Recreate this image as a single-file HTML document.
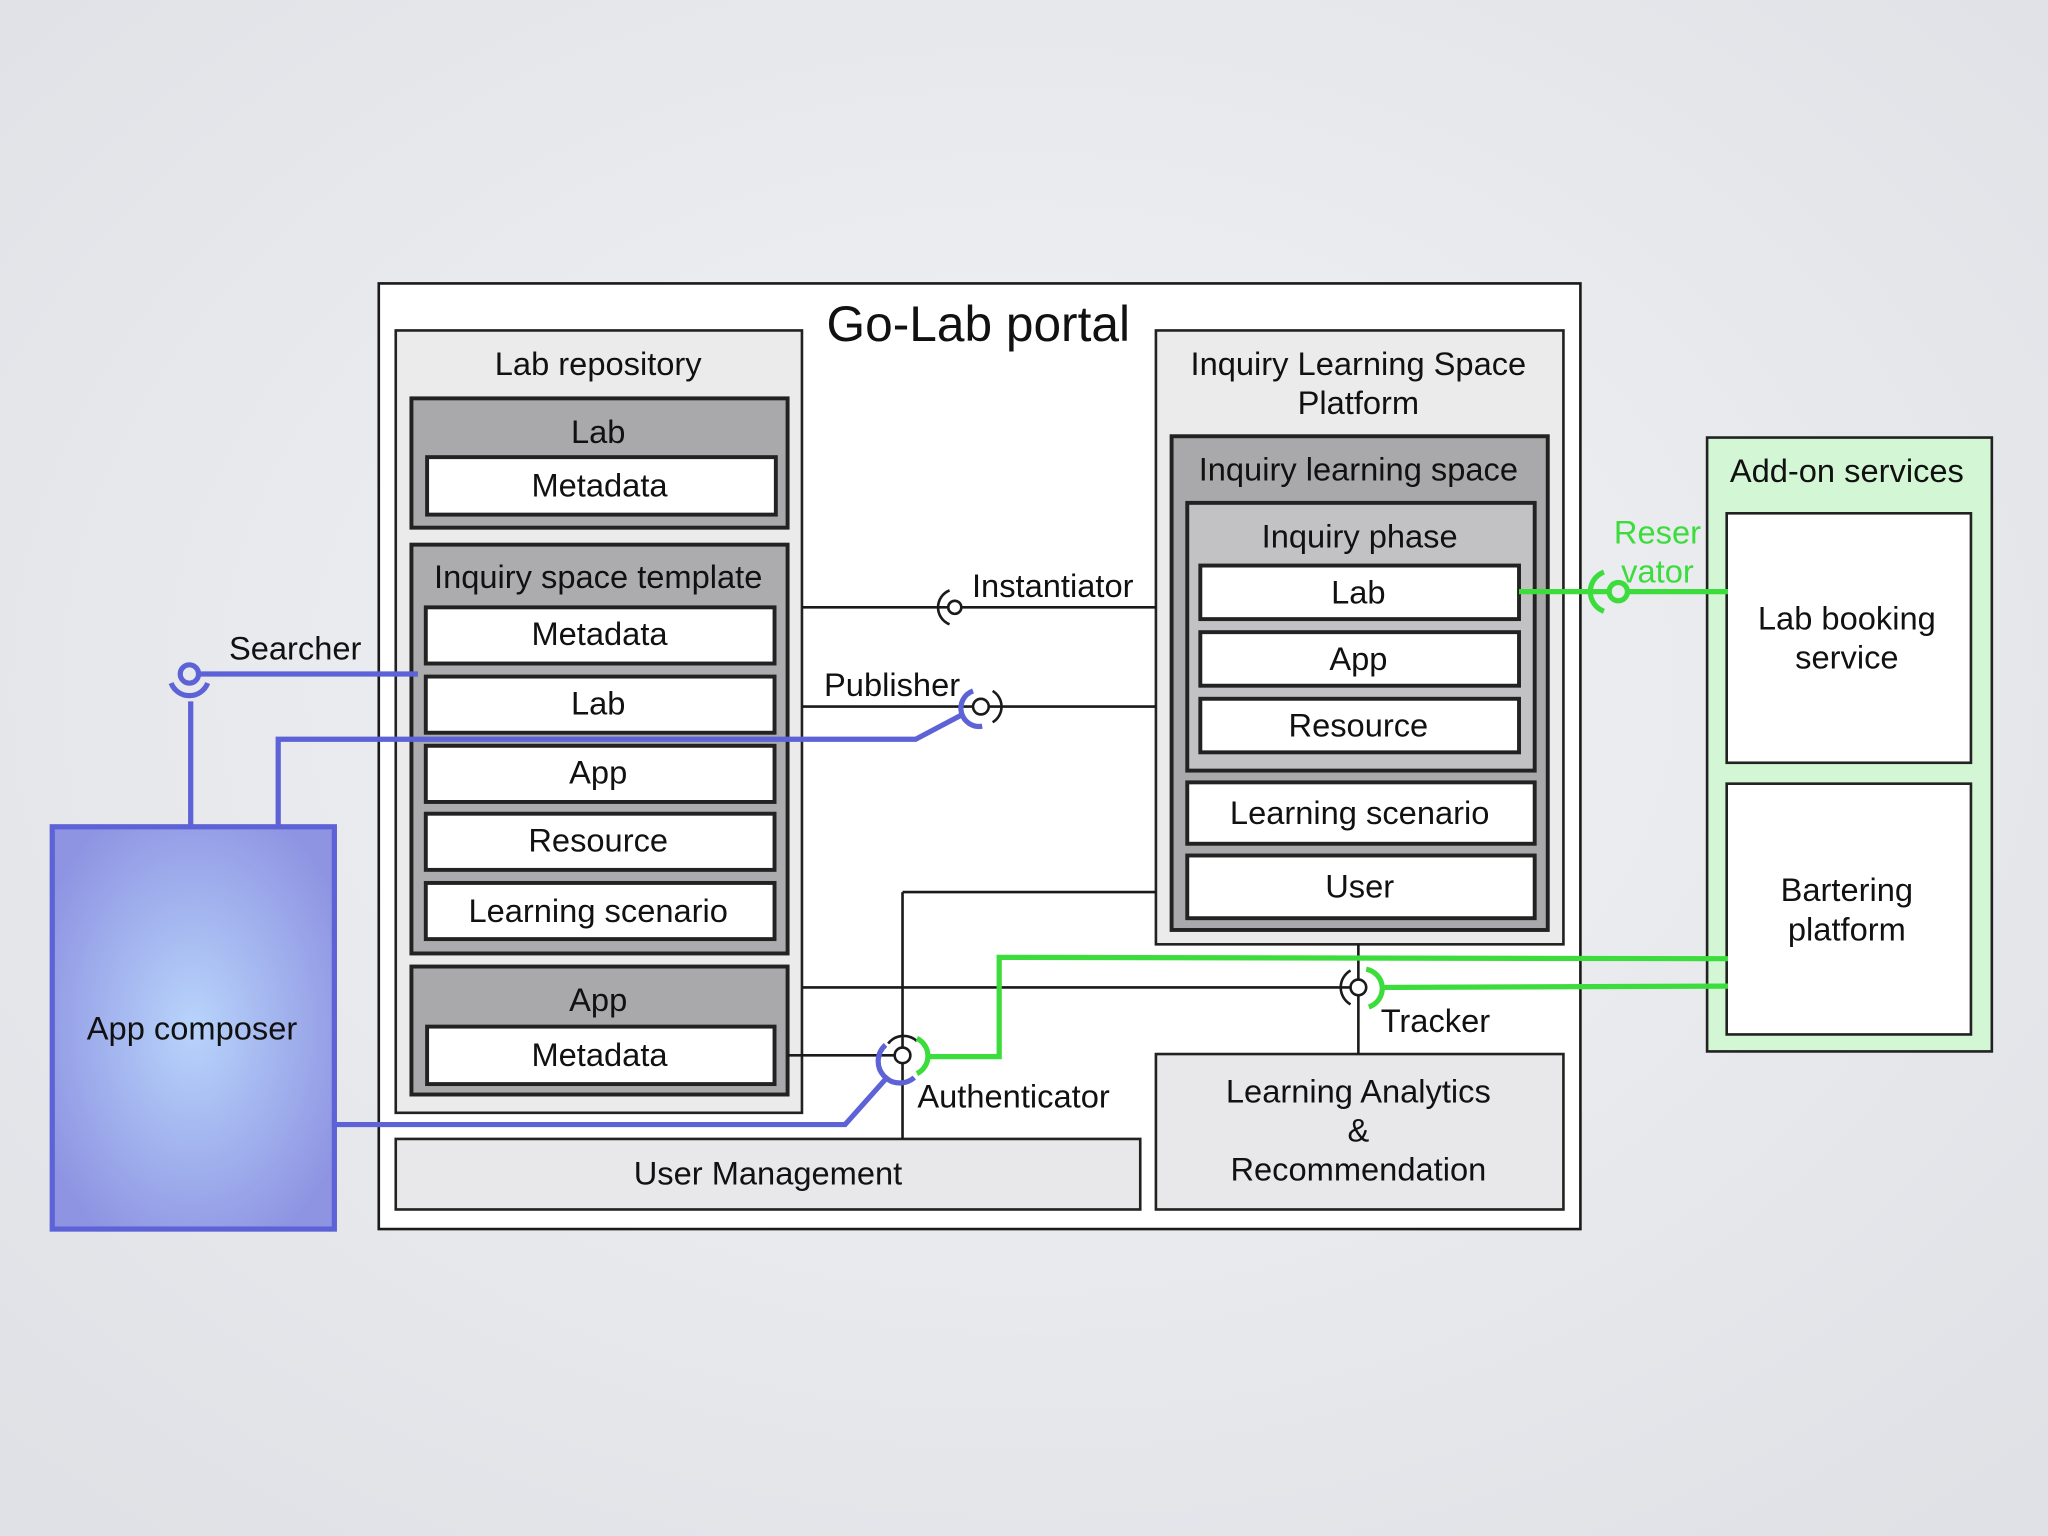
<!DOCTYPE html>
<html><head><meta charset="utf-8"><style>
html,body{margin:0;padding:0;width:2048px;height:1536px;overflow:hidden;background:#e3e5e9;}
svg{display:block}
text{font-family:"Liberation Sans",Arial,sans-serif;fill:#111;text-anchor:middle}
</style></head><body>
<svg width="2048" height="1536" viewBox="0 0 1568 1176" xmlns="http://www.w3.org/2000/svg">
<defs>
<radialGradient id="bg" cx="50%" cy="45%" r="70%"><stop offset="0" stop-color="#f3f4f6"/><stop offset="1" stop-color="#dfe1e6"/></radialGradient>
<radialGradient id="blue" cx="50%" cy="50%" r="60%"><stop offset="0" stop-color="#b8d4fb"/><stop offset="1" stop-color="#8e94e2"/></radialGradient>
</defs>
<rect width="1568" height="1176" fill="url(#bg)"/>
<rect x="290" y="217" width="920" height="724" fill="#fff" stroke="#1a1a1a" stroke-width="2"/>
<text x="749" y="261" font-size="38">Go-Lab portal</text>
<g stroke="#222" stroke-width="2">
<rect x="303" y="253" width="311" height="599" fill="#ebebec"/>
<rect x="315" y="305" width="288" height="99" fill="#a9a9ab" stroke-width="3"/>
<rect x="327" y="350" width="267" height="44" fill="#fff" stroke-width="3"/>
<rect x="315" y="417" width="288" height="313" fill="#acacae" stroke-width="3"/>
<rect x="326" y="465" width="267" height="43" fill="#fff" stroke-width="3"/>
<rect x="326" y="518" width="267" height="43" fill="#fff" stroke-width="3"/>
<rect x="326" y="571" width="267" height="43" fill="#fff" stroke-width="3"/>
<rect x="326" y="623" width="267" height="43" fill="#fff" stroke-width="3"/>
<rect x="326" y="676" width="267" height="43" fill="#fff" stroke-width="3"/>
<rect x="315" y="740" width="288" height="98" fill="#a9a9ab" stroke-width="3"/>
<rect x="327" y="786" width="266" height="44" fill="#fff" stroke-width="3"/>
<rect x="303" y="872" width="570" height="54" fill="#e8e8ea"/>
<rect x="885" y="253" width="312" height="470" fill="#ebebec"/>
<rect x="897" y="334" width="288" height="378" fill="#a9a9ab" stroke-width="3"/>
<rect x="909" y="385" width="266" height="205" fill="#c2c2c4" stroke-width="3"/>
<rect x="919" y="433" width="244" height="41" fill="#fff" stroke-width="3"/>
<rect x="919" y="484" width="244" height="41" fill="#fff" stroke-width="3"/>
<rect x="919" y="535" width="244" height="41" fill="#fff" stroke-width="3"/>
<rect x="909" y="599" width="266" height="47" fill="#fff" stroke-width="3"/>
<rect x="909" y="655" width="266" height="48" fill="#fff" stroke-width="3"/>
<rect x="885" y="807" width="312" height="119" fill="#e8e8ea"/>
<rect x="1307" y="335" width="218" height="470" fill="#d3f6d5"/>
<rect x="1322" y="393" width="187" height="191" fill="#fff"/>
<rect x="1322" y="600" width="187" height="192" fill="#fff"/>
</g>
<rect x="40" y="633" width="216" height="308" fill="url(#blue)" stroke="#5d63d6" stroke-width="4"/>
<g stroke="#1a1a1a" stroke-width="2" fill="none">
<line x1="614" y1="465" x2="726" y2="465"/><line x1="736" y1="465" x2="885" y2="465"/>
<circle cx="731" cy="465" r="5"/><path d="M727 452 A14 14 0 0 0 727 478"/>
<line x1="614" y1="541" x2="745" y2="541"/><line x1="757" y1="541" x2="885" y2="541"/>
<circle cx="751" cy="541" r="6"/><path d="M760 529 A14 14 0 0 1 760 553"/>
<line x1="603" y1="808" x2="685" y2="808"/><circle cx="691" cy="808" r="6"/>
<line x1="691" y1="683" x2="691" y2="802"/><line x1="691" y1="814" x2="691" y2="872"/>
<line x1="691" y1="683" x2="885" y2="683"/>
<path d="M680 799 A15 15 0 0 1 702 797"/>
<line x1="614" y1="756" x2="1034" y2="756"/>
<circle cx="1040" cy="756" r="6"/>
<line x1="1040" y1="723" x2="1040" y2="750"/><line x1="1040" y1="762" x2="1040" y2="807"/>
<path d="M1034 743 A15 15 0 0 0 1034 769"/>
</g>
<g stroke="#5d63d6" stroke-width="4" fill="none">
<circle cx="145" cy="516" r="7"/>
<path d="M131 523 A15 15 0 0 0 159 523"/>
<line x1="152" y1="516" x2="320" y2="516"/>
<line x1="146" y1="537" x2="146" y2="633"/>
<polyline points="213,633 213,566 701,566 737,547"/>
<path d="M745 529 A14 14 0 0 0 752 556"/>
<polyline points="256,861 647,861 680,824"/>
<path d="M678 800 A15 15 0 0 0 700 825"/>
</g>
<g stroke="#3ddc3d" stroke-width="4" fill="none">
<line x1="1163" y1="453" x2="1232" y2="453"/>
<circle cx="1239" cy="453" r="7"/>
<line x1="1246" y1="453" x2="1323" y2="453"/>
<path d="M1228 438 A16 16 0 0 0 1228 468"/>
<polyline points="712,809 765,809 765,733 1323,734"/>
<path d="M702 795 A15 15 0 0 1 702 822"/>
<line x1="1060" y1="756" x2="1323" y2="755"/>
<path d="M1046 742 A15 15 0 0 1 1048 771"/>
</g>
<g font-size="25">
<text x="458" y="287">Lab repository</text>
<text x="458" y="339">Lab</text>
<text x="459" y="380">Metadata</text>
<text x="458" y="450">Inquiry space template</text>
<text x="459" y="494">Metadata</text>
<text x="458" y="547">Lab</text>
<text x="458" y="600">App</text>
<text x="458" y="652">Resource</text>
<text x="458" y="706">Learning scenario</text>
<text x="458" y="774">App</text>
<text x="459" y="816">Metadata</text>
<text x="588" y="907">User Management</text>
<text x="1040" y="287">Inquiry Learning Space</text>
<text x="1040" y="317">Platform</text>
<text x="1040" y="368">Inquiry learning space</text>
<text x="1041" y="419">Inquiry phase</text>
<text x="1040" y="462">Lab</text>
<text x="1040" y="513">App</text>
<text x="1040" y="564">Resource</text>
<text x="1041" y="631">Learning scenario</text>
<text x="1041" y="687">User</text>
<text x="1040" y="844">Learning Analytics</text>
<text x="1040" y="874">&amp;</text>
<text x="1040" y="904">Recommendation</text>
<text x="1414" y="369">Add-on services</text>
<text x="1414" y="482">Lab booking</text>
<text x="1414" y="512">service</text>
<text x="1414" y="690">Bartering</text>
<text x="1414" y="720">platform</text>
<text x="147" y="796">App composer</text>
<text x="806" y="457">Instantiator</text>
<text x="683" y="533">Publisher</text>
<text x="226" y="505">Searcher</text>
<text x="776" y="848">Authenticator</text>
<text x="1099" y="790">Tracker</text>
<text x="1269" y="416" style="fill:#3ddc3d">Reser</text>
<text x="1269" y="446" style="fill:#3ddc3d">vator</text>
</g>
</svg>
</body></html>
